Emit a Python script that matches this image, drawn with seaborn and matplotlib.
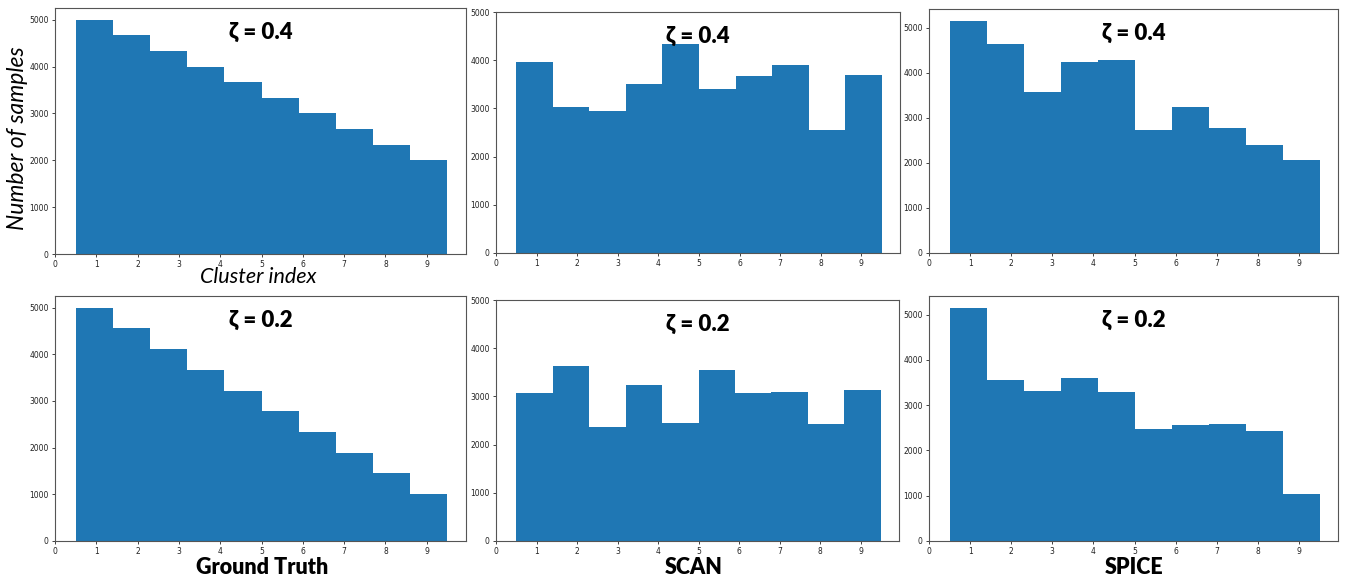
import numpy as np
import pandas as pd
import matplotlib
matplotlib.use("Agg")
import matplotlib.pyplot as plt
import seaborn as sns

# cluster sizes (10 clusters)
gt_04 = [5000, 4665, 4335, 4000, 3665, 3335, 3000, 2665, 2330, 2000]
scan_04 = [3955, 3035, 2945, 3515, 4330, 3410, 3675, 3910, 2545, 3695]
spice_04 = [5160, 4650, 3575, 4245, 4295, 2730, 3235, 2770, 2400, 2070]
gt_02 = [5000, 4555, 4105, 3665, 3220, 2780, 2335, 1890, 1447, 1000]
scan_02 = [3065, 3640, 2365, 3245, 2440, 3555, 3065, 3085, 2425, 3135]
spice_02 = [5155, 3560, 3310, 3598, 3290, 2470, 2552, 2590, 2435, 1032]

zeta_labels = ["ζ = 0.4", "ζ = 0.2"]
method_labels = ["Ground Truth", "SCAN", "SPICE"]

edges = np.linspace(0.5, 9.5, 11)
centers = (edges[:-1] + edges[1:]) / 2

sns.set_style("ticks")
plt.rcParams["font.family"] = ["DejaVu Sans"]
plt.rcParams["text.color"] = "black"

W, H = 1347, 583
fig = plt.figure(figsize=(W / 100, H / 100), dpi=100)


def rect(l, r, t, b):
    return [l / W, 1 - b / H, (r - l) / W, (b - t) / H]


panels = [
    (gt_04, rect(55, 466, 8, 254), None, 0),
    (scan_04, rect(496, 900, 12, 253), 5000, 0),
    (spice_04, rect(929, 1338, 9, 253), None, 0),
    (gt_02, rect(55, 466, 296, 541), None, 1),
    (scan_02, rect(496, 899, 300, 541), 5000, 1),
    (spice_02, rect(929, 1338, 296, 541), None, 1),
]

title_font = ["Lato", "DejaVu Sans"]

for counts, r, ytop, row in panels:
    ax = fig.add_axes(r)
    df = pd.DataFrame({"cluster": centers, "n": counts})
    sns.histplot(data=df, x="cluster", weights="n", binwidth=0.9,
                 binrange=(0.5, 9.5), ax=ax,
                 color="#1f77b4", alpha=1, linewidth=0)
    ax.set_xlim(0, 9.95)
    if ytop is not None:
        ax.set_ylim(0, ytop)
    else:
        ax.set_ylim(0, max(counts) * 1.05)
    ax.set_xticks(range(10))
    ax.set_yticks(range(0, 5001, 1000))
    ax.set_xlabel("")
    ax.set_ylabel("")
    ax.tick_params(labelsize=5.5, length=2.5, width=0.6, pad=2,
                   colors="#222222")
    for s in ax.spines.values():
        s.set_color("#555555")
        s.set_linewidth(0.8)
    ax.text(0.5, 0.9, zeta_labels[row], transform=ax.transAxes, ha="center",
            va="center", fontsize=16, fontweight="heavy", family=title_font,
            color="black")

fig.text(18 / W, 1 - 138 / H, "Number of samples", rotation=90, ha="center",
         va="center", fontsize=16.5, style="italic", family=title_font,
         color="black")
fig.text(258 / W, 1 - 277 / H, "Cluster index", ha="center", va="center",
         fontsize=15.5, style="italic", family=title_font, color="black")

for cx, label in zip([262, 694, 1134], method_labels):
    fig.text(cx / W, 1 - 568 / H, label, ha="center", va="center",
             fontsize=15.5, fontweight="heavy", family=title_font,
             color="black")

fig.savefig("out.png", dpi=100)
